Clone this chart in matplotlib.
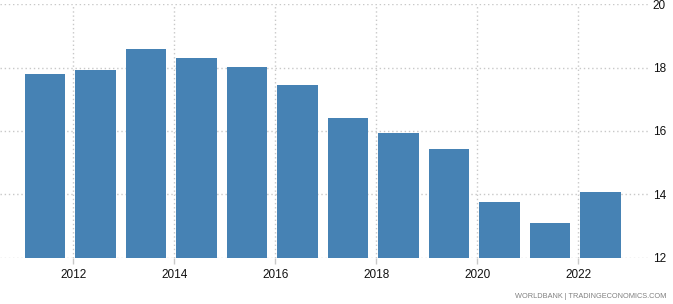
import matplotlib
matplotlib.use("Agg")
import matplotlib.pyplot as plt

years = [2011, 2012, 2013, 2014, 2015, 2016, 2017, 2018, 2019, 2020, 2021, 2022]
values = [17.80, 17.93, 18.59, 18.31, 18.02, 17.45, 16.40, 15.93, 15.42, 13.74, 13.08, 14.06]
xticks = [2012, 2014, 2016, 2018, 2020, 2022]
yticks = [12, 14, 16, 18, 20]

plt.rcParams['font.family'] = ['Liberation Sans', 'DejaVu Sans']

fig = plt.figure(figsize=(6.73, 3.04), dpi=100)
ax = fig.add_axes([0.0, 1 - 257.5 / 304, 650 / 673, (257.5 - 4.3) / 304])

# bars sit a bit right of the year tick, like the original
pos = [y + 0.44 for y in years]
ax.bar(pos, [v - 12 for v in values], width=0.8, bottom=12, color="#4682b4", zorder=2)

ax.set_xlim(2010.55, 2023.42)
ax.set_ylim(12, 20)
ax.set_xticks(xticks)
ax.set_yticks(yticks)
ax.yaxis.tick_right()

ax.grid(True, color="#c8c8c8", linestyle=(0, (1, 2)), linewidth=1.0, zorder=0)
for s in ax.spines.values():
    s.set_visible(False)

ax.tick_params(axis="y", length=0, pad=2, labelsize=8.5, colors="#111111")
ax.tick_params(axis="x", length=4, width=1, color="#c8c8c8", pad=4, labelsize=8.5, labelcolor="#111111")

fig.text(0.99, 0.012, "WORLDBANK | TRADINGECONOMICS.COM", ha="right", va="bottom",
         fontsize=5.3, color="#808080")

fig.savefig("out.png", dpi=100)
